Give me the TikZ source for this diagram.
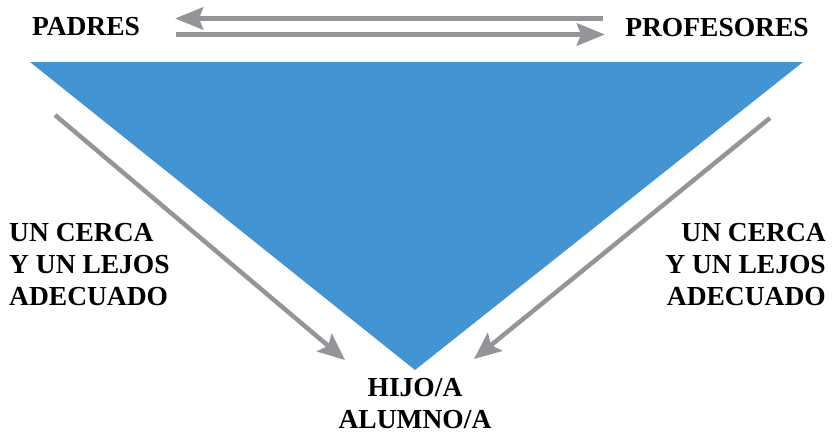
\documentclass[tikz,border=0pt]{standalone}
\usepackage{fontspec}
\setmainfont{Liberation Serif}
\usetikzlibrary{arrows.meta, positioning}
\definecolor{triblue}{RGB}{66,148,210}
\definecolor{arrgray}{RGB}{148,149,152}
\tikzset{
  lbl/.style={font=\bfseries\fontsize{27.5}{32}\selectfont, inner sep=0pt},
  grayarrow/.style={draw=arrgray, line width=5.5pt, -{Stealth[length=28pt, width=22pt, inset=4pt]}},
  diagarrow/.style={draw=arrgray, line width=4.5pt, -{Stealth[length=27pt, width=23pt, inset=5pt]}}
}
\begin{document}
\begin{tikzpicture}[x=1pt, y=-1pt]
  \useasboundingbox (0,0) rectangle (833,439);
  % Triangle
  \fill[triblue] (30,62) -- (803,62) -- (415,370) -- cycle;
  % Labels
  \node[lbl] (padres) at (86,27) {PADRES};
  \node[lbl] (prof) at (717,28) {PROFESORES};
  \node[lbl, align=left, anchor=west] (leftlbl) at (9,265) {UN CERCA\\Y UN LEJOS\\ADECUADO};
  \node[lbl, align=right, anchor=east] (rightlbl) at (826,265) {UN CERCA\\Y UN LEJOS\\ADECUADO};
  \node[lbl, align=center] (hijo) at (415,404) {HIJO/A\\ALUMNO/A};
  % Arrows between parents and teachers
  \coordinate (ta) at (603,18.5);
  \coordinate (tb) at (175,18.5);
  \coordinate (ba) at (176,34.5);
  \coordinate (bb) at (605,34.5);
  \draw[grayarrow] (ta) -- (tb);
  \draw[grayarrow] (ba) -- (bb);
  % Arrows toward child
  \coordinate (la) at (55,115);
  \coordinate (lb) at (345,360);
  \coordinate (ra) at (770,118);
  \coordinate (rb) at (474,359);
  \draw[diagarrow] (la) -- (lb);
  \draw[diagarrow] (ra) -- (rb);
\end{tikzpicture}
\end{document}
